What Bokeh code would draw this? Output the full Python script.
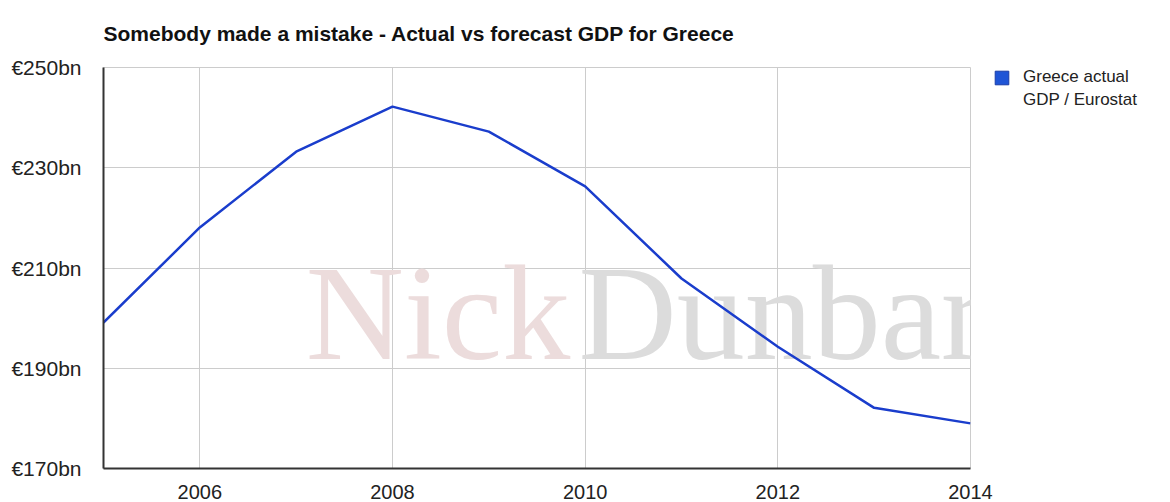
from bokeh.plotting import figure
from bokeh.models import (FixedTicker, Legend, LegendItem, Label, ColumnDataSource, Range1d)
from bokeh.embed import file_html
from bokeh.resources import INLINE

# ---- data ----
years = [2005, 2006, 2007, 2008, 2009, 2010, 2011, 2012, 2013, 2014]
gdp_bn = [199.1, 218.1, 233.2, 242.2, 237.2, 226.3, 207.9, 194.3, 182.1, 179.0]
x_ticks = [2006, 2008, 2010, 2012, 2014]
y_ticks = [170, 190, 210, 230, 250]
y_tick_labels = ["€170bn", "€190bn", "€210bn", "€230bn", "€250bn"]
legend_lines = ["Greece actual", "GDP / Eurostat"]
title_text = "Somebody made a mistake - Actual vs forecast GDP for Greece"

FONT = "Liberation Sans"
LINE_BLUE = "#1a3dcc"

p = figure(frame_width=867, frame_height=401, output_backend="svg", toolbar_location=None,
           x_range=Range1d(2005, 2014), y_range=Range1d(170, 250),
           min_border_left=95, min_border_right=180, min_border_top=59,
           min_border_bottom=28)

p.title.text = title_text
p.title.text_font = FONT
p.title.text_font_size = "21px"
p.title.text_font_style = "bold"
p.title.text_color = "#111111"
p.title.align = "left"
p.title.vertical_align = "top"
p.title.standoff = 42

p.outline_line_color = "#cccccc"
p.background_fill_color = "white"
p.border_fill_color = "white"

# axes
p.xaxis.ticker = FixedTicker(ticks=x_ticks)
p.yaxis.ticker = FixedTicker(ticks=y_ticks)
p.yaxis.major_label_overrides = {t: l for t, l in zip(y_ticks, y_tick_labels)}
for ax in (p.xaxis[0], p.yaxis[0]):
    ax.major_tick_line_color = None
    ax.minor_tick_line_color = None
    ax.major_label_text_font = FONT
    ax.major_label_text_font_size = "20px"
    ax.major_label_text_color = "#222222"
    ax.axis_line_color = "#333333"
    ax.axis_line_width = 2
p.yaxis.major_label_text_font_size = "21px"
p.yaxis.major_label_standoff = 16
p.yaxis.axis_label = " "
p.yaxis.axis_label_text_font_size = "4px"
p.yaxis.axis_label_standoff = 0
p.xaxis.major_label_standoff = 10

p.xgrid.ticker = FixedTicker(ticks=x_ticks)
p.ygrid.ticker = FixedTicker(ticks=y_ticks)
p.grid.grid_line_color = "#cccccc"
p.grid.grid_line_width = 1

# watermark
wm1 = Label(x=2007.10, y=201.1, text="Nick", text_font="Liberation Serif",
            text_font_size="136px", text_color="#ecdcdc", text_baseline="alphabetic",
            level="underlay")
wm2 = Label(x=2009.93, y=201.1, text="Dunbar", text_font="Liberation Serif",
            text_font_size="136px", text_color="#dcdcdc", text_baseline="alphabetic",
            level="underlay")
p.add_layout(wm1)
p.add_layout(wm2)

src = ColumnDataSource(dict(x=years, y=gdp_bn))
line = p.line("x", "y", source=src, line_color=LINE_BLUE, line_width=2.5)

# legend proxies (no visible marks in the plot)
q_src = ColumnDataSource(dict(l=[float("nan")], r=[float("nan")],
                              b=[float("nan")], t=[float("nan")]))
sq = p.quad(left="l", right="r", bottom="b", top="t", source=q_src,
            fill_color="#1f55d6", line_color="#1a3da8")
blank = p.quad(left="l", right="r", bottom="b", top="t", source=q_src,
               fill_alpha=0, line_alpha=0)

legend = Legend(items=[LegendItem(label=legend_lines[0], renderers=[sq]),
                       LegendItem(label=legend_lines[1], renderers=[blank])],
                location=(23, 358), border_line_color=None,
                background_fill_alpha=0, label_text_font=FONT,
                label_text_font_size="17px", label_text_color="#222222",
                glyph_width=17, glyph_height=17, label_standoff=13,
                label_height=20, padding=0, margin=0, spacing=3)
p.add_layout(legend, "right")

open("out.html", "w").write(file_html(p, INLINE))
